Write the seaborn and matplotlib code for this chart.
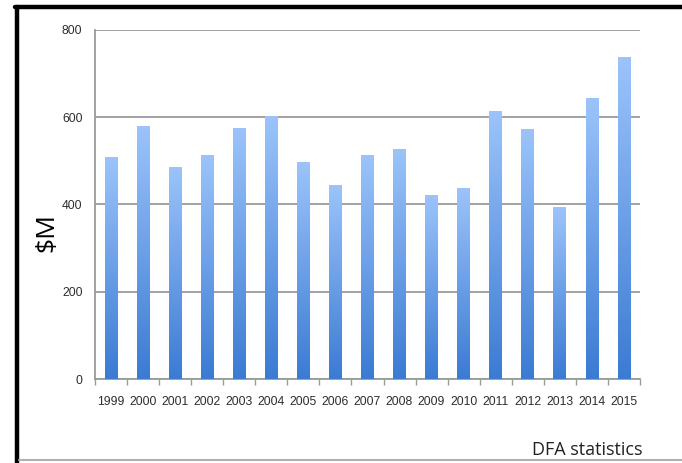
import numpy as np
import pandas as pd
import matplotlib
matplotlib.use("Agg")
import matplotlib.pyplot as plt
from matplotlib.colors import LinearSegmentedColormap
from matplotlib.lines import Line2D
import seaborn as sns

years = ["1999", "2000", "2001", "2002", "2003", "2004", "2005", "2006", "2007",
         "2008", "2009", "2010", "2011", "2012", "2013", "2014", "2015"]
values = [509, 581, 487, 514, 576, 603, 497, 445, 514,
          528, 422, 438, 615, 574, 395, 645, 737]
yticks = [0, 200, 400, 600, 800]

sns.set_theme(style="white")
plt.rcParams["font.family"] = ["Liberation Sans", "DejaVu Sans"]

W, H = 682, 463
fig = plt.figure(figsize=(W / 100, H / 100), dpi=100)
fig.patch.set_facecolor("white")

ax = fig.add_axes([95 / W, (H - 379) / H, (640 - 95) / W, (379 - 30) / H])
df = pd.DataFrame({"year": years, "value": values})
sns.barplot(data=df, x="year", y="value", ax=ax, width=0.4,
            color="#6fa3ea", saturation=1, edgecolor="none", zorder=3)

ax.set_ylim(0, 800)
ax.set_yticks(yticks)
ax.set_xlim(-0.5, len(years) - 0.5)
ax.yaxis.grid(True, color="#9a9a9a", linewidth=1.3, zorder=0)
ax.xaxis.grid(False)
for s in ["top", "right"]:
    ax.spines[s].set_visible(False)
for s in ["left", "bottom"]:
    ax.spines[s].set_color("#9a9a9a")
    ax.spines[s].set_linewidth(1.3)

ax.set_xlabel("")
ax.set_ylabel("")
ax.tick_params(axis="x", which="major", length=0, pad=12, labelsize=8.8,
               labelcolor="#2e2e2e")
ax.tick_params(axis="y", which="major", length=4, width=1, color="#9a9a9a",
               pad=5, labelsize=8.8, labelcolor="#2e2e2e")
ax.set_xticks(np.arange(-0.5, len(years), 1.0), minor=True)
ax.tick_params(axis="x", which="minor", length=4, width=1, color="#9a9a9a",
               bottom=True)

# gradient fill on seaborn bars
cmap = LinearSegmentedColormap.from_list("g", ["#3b7bd3", "#9cc4fb"])
grad = np.linspace(0, 1, 256).reshape(-1, 1)
for p in ax.patches:
    x0, y0 = p.get_x(), p.get_y()
    w, h = p.get_width(), p.get_height()
    im = ax.imshow(grad, cmap=cmap, aspect="auto", origin="lower",
                   extent=[x0, x0 + w, y0, y0 + h], zorder=4)
    im.set_clip_path(p)
ax.set_xlim(-0.5, len(years) - 0.5)
ax.set_ylim(0, 800)

fig.text(47 / W, 1 - 233 / H, "$M", rotation=90, fontsize=19,
         ha="center", va="center", color="black", family=["Open Sans", "DejaVu Sans"])
fig.text(642 / W, 1 - 450 / H, "DFA statistics", fontsize=13,
         ha="right", va="center", color="#222222", family=["Open Sans", "DejaVu Sans"])

# frame lines
fig.add_artist(Line2D([15 / W, 1], [1 - 7 / H, 1 - 7 / H], color="black",
                      linewidth=3.2, transform=fig.transFigure))
fig.add_artist(Line2D([17 / W, 17 / W], [0, 1 - 7 / H], color="black",
                      linewidth=3.2, transform=fig.transFigure))
fig.add_artist(Line2D([19 / W, 1], [1 - 460 / H, 1 - 460 / H], color="#b0b0b0",
                      linewidth=1.5, transform=fig.transFigure))

fig.savefig("out.png", dpi=100)
